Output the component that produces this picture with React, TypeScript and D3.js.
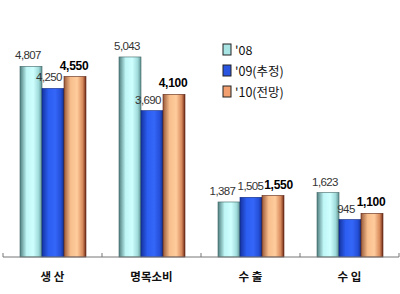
import React from "react";
import * as d3 from "d3";

const categories = ["생 산", "명목소비", "수 출", "수 입"];
const seriesNames = ["'08", "'09(추정)", "'10(전망)"];
const v08 = [4807, 5043, 1387, 1623];
const v09 = [4250, 3690, 1505, 945];
const v10 = [4550, 4100, 1550, 1100];
const labels08 = ["4,807", "5,043", "1,387", "1,623"];
const labels09 = ["4,250", "3,690", "1,505", "945"];
const labels10 = ["4,550", "4,100", "1,550", "1,100"];

const W = 400, H = 294;
const gradStops = [
  [["0", "#4f7d7d"], ["0.3", "#bff6f6"], ["0.6", "#cfffff"], ["0.85", "#9fdada"], ["1", "#5f8f8f"]],
  [["0", "#1533a0"], ["0.3", "#2c5ef2"], ["0.6", "#3466f8"], ["0.85", "#2550d8"], ["1", "#13308f"]],
  [["0", "#9a5a3a"], ["0.3", "#f7be8c"], ["0.6", "#ffcc9c"], ["0.85", "#d88a5c"], ["1", "#6e2a18"]],
];
const strokes = ["#3f6464", "#0f2a80", "#5a2412"];
const legendFill = ["#a8e4e4", "#2a55e0", "#f2a070"];

export default function App() {
  const x0 = d3.scaleBand().domain(categories).range([3, 399]);
  const x1 = d3.scaleBand().domain(seriesNames).range([17, 83]);
  const y = d3.scaleLinear().domain([0, 6000]).range([257, 19]);
  const series = [v08, v09, v10];
  const lbls = [labels08, labels09, labels10];
  const base = y(0);
  return (
    <svg width={W} height={H} style={{ position: "absolute", left: 0, top: 0 }}
      fontFamily="Liberation Sans, Arial, sans-serif">
      <defs>
        {gradStops.map((st, i) => (
          <linearGradient key={i} id={`g${i}`} x1="0" x2="1" y1="0" y2="0">
            {st.map(([o, c]) => <stop key={o} offset={o} stopColor={c} />)}
          </linearGradient>
        ))}
      </defs>
      <rect width={W} height={H} fill="#fff" />
      {categories.map((c, ci) => (
        <g key={c}>
          {series.map((s, si) => {
            const bx = x0(c)! + x1(seriesNames[si])!;
            const bw = x1.bandwidth();
            return (
              <rect key={si} x={bx} y={y(s[ci])} width={bw} height={base - y(s[ci])}
                fill={`url(#g${si})`} stroke={strokes[si]} strokeWidth={0.6} />
            );
          })}
        </g>
      ))}
      <line x1={3} x2={399} y1={base} y2={base} stroke="#777" strokeWidth={1} />
      {d3.range(5).map((i) => {
        const tx = 3 + i * x0.step();
        return <line key={i} x1={tx} x2={tx} y1={base - 4} y2={base} stroke="#777" />;
      })}
      {categories.map((c, ci) => {
        const close01 = Math.abs(y(v08[ci]) - y(v09[ci])) < 14;
        const close12 = Math.abs(y(v10[ci]) - y(v09[ci])) < 14;
        return (
          <g key={c + "l"}>
            {series.map((s, si) => {
              const cx = x0(c)! + x1(seriesNames[si])! + x1.bandwidth() / 2;
              let off = si === 0 ? -3 : si === 1 ? -4 : -1;
              if (close01 && close12) off = si === 0 ? -6.5 : si === 1 ? -0.5 : 5.5;
              return (
                <text key={si} x={cx + off} y={y(s[ci]) - 7} textAnchor="middle"
                  fontSize={si === 2 ? 12 : 11.5} fontWeight={si === 2 ? "bold" : "normal"}
                  fill={si === 2 ? "#000" : "#333"} letterSpacing={si === 2 ? -0.3 : -0.6}>
                  {lbls[si][ci]}
                </text>
              );
            })}
            <text x={x0(c)! + x0.bandwidth() / 2} y={281} textAnchor="middle" fontSize={11.5}
              fontWeight="bold" fontFamily="Noto Sans CJK KR" fill="#111">{c}</text>
          </g>
        );
      })}
      {seriesNames.map((n, i) => (
        <g key={n} transform={`translate(223,${44 + i * 21})`}>
          <rect x={0} y={0} width={8} height={11} fill={legendFill[i]} stroke="#222" strokeWidth={1} />
          <text x={12} y={10.5} fontSize={12.5} fontFamily="Noto Sans CJK KR" fill="#111">{n}</text>
        </g>
      ))}
    </svg>
  );
}
